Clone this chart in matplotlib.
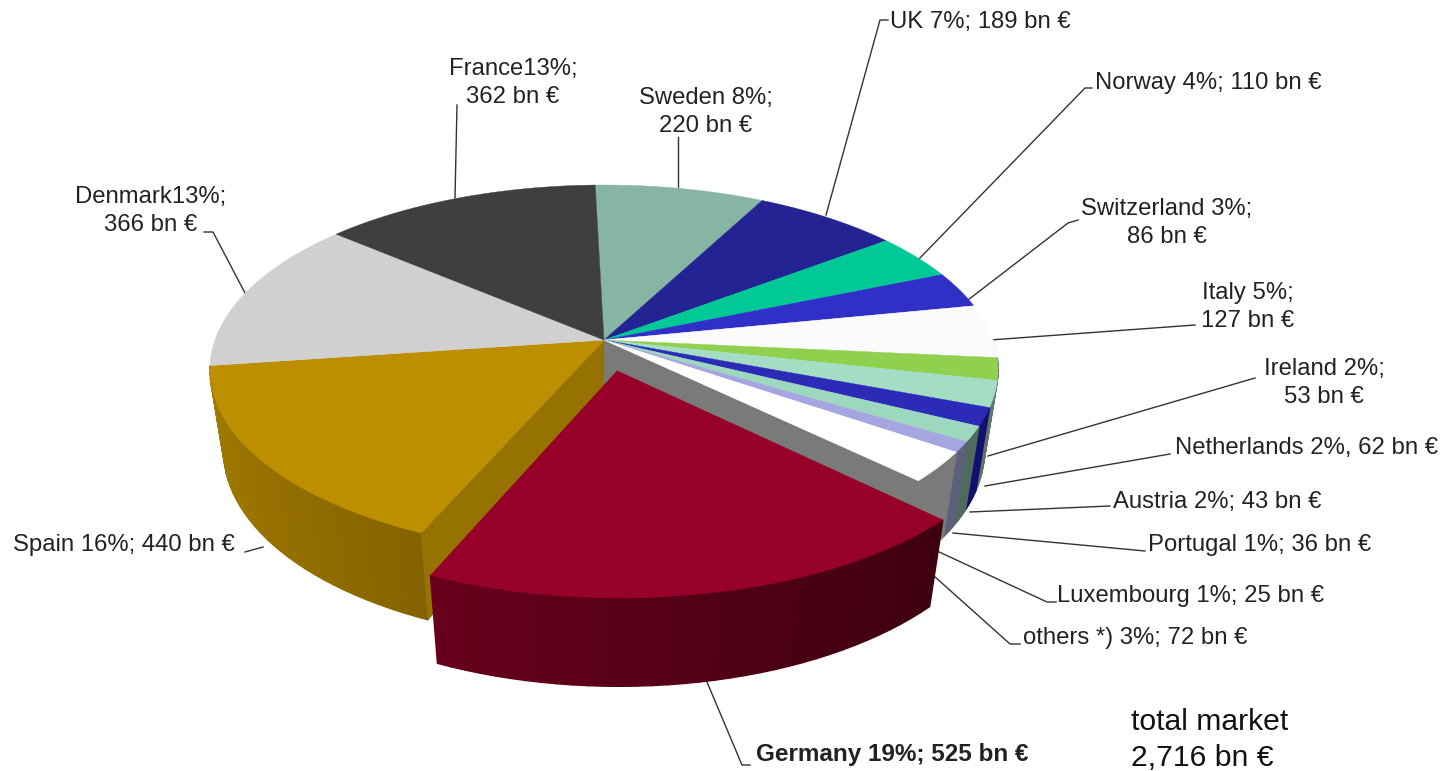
import numpy as np
import matplotlib
matplotlib.use('Agg')
import matplotlib.pyplot as plt
from matplotlib.colors import to_rgb

plt.rcParams['font.family'] = ['Liberation Sans', 'DejaVu Sans']

# bn euro, clockwise from the top
countries = ['Sweden', 'UK', 'Norway', 'Switzerland', 'Italy', 'Ireland', 'Netherlands', 'Austria',
             'Portugal', 'Luxembourg', 'others', 'Germany', 'Spain', 'Denmark', 'France']
values = [220, 189, 110, 86, 127, 53, 62, 43, 36, 25, 72, 525, 440, 366, 362]
top_colors = ['#87b5a3', '#232394', '#00c896', '#3030c8', '#fbfbfb', '#8fd14f', '#a3ddc3', '#2b2bb8',
              '#9cd8be', '#a5a5e0', '#ffffff', '#970029', '#bd8e00', '#d0d0d0', '#3f3f3f']
# None = shaded from the top colour
wall_colors = [None, None, None, None, '#e8e8e8', '#4a5a50', '#5f7568', '#12126e',
               '#4f6b60', '#5c607c', '#7a7a7a', None, None, None, None]

labels = ['UK 7%; 189 bn €', 'Norway 4%; 110 bn €', 'Switzerland 3%;\n86 bn €', 'Italy 5%;\n127 bn €',
          'Ireland 2%;\n53 bn €', 'Netherlands 2%, 62 bn €', 'Austria 2%; 43 bn €', 'Portugal 1%; 36 bn €',
          'Luxembourg 1%; 25 bn €', 'others *) 3%; 72 bn €', 'Spain 16%; 440 bn €', 'Denmark13%;\n366 bn €',
          'France13%;\n362 bn €', 'Sweden 8%;\n220 bn €']
label_pos = [(980, 22), (1208, 83), (1167, 223), (1248, 307), (1324, 383), (1307, 448), (1217, 502),
             (1260, 545), (1191, 596), (1135, 638), (124, 545), (151, 211), (513, 83), (706, 112)]
leaders = [[(826, 215), (880, 20), (888, 20)],
           [(918, 260), (1085, 88), (1092, 88)],
           [(968, 300), (1068, 223), (1078, 220)],
           [(990, 340), (1195, 325)],
           [(988, 456), (1255, 378)],
           [(985, 486), (1170, 454)],
           [(970, 512), (1110, 506)],
           [(953, 533), (1145, 551)],
           [(937, 551), (1047, 602), (1056, 602)],
           [(934, 576), (1010, 644), (1020, 644)],
           [(707, 682), (742, 765), (750, 765)],
           [(263, 547), (245, 552)],
           [(245, 293), (213, 232), (204, 232)],
           [(455, 198), (457, 105)],
           [(678, 187), (678, 137)]]

# perspective settings of the pie
cx, cy = 604, 340
A, B = 389, 179.8
p, q = 0.16, 0.035
D = 84
start = 91.5
explode = {'Germany': 0.17}
no_wall = ['Denmark']


def project(x, y, z=0.0):
    den = 1 + p * y + q * z
    return cx + A * x / den, cy - B * y / den + D * z / den


def shade(col, x):
    f = np.clip(0.6 - 0.25 * x, 0.3, 1)
    return tuple(c * f for c in to_rgb(col))


def rim(a1, a2, n, off):
    t = np.radians(np.linspace(a1, a2, n))
    return off[0] + np.cos(t), off[1] + np.sin(t)


def draw_top(ax, a1, a2, off, col, zo):
    x, y = rim(a1, a2, 60, off)
    x = np.r_[off[0], x]
    y = np.r_[off[1], y]
    sx, sy = project(x, y)
    ax.fill(sx, sy, color=col, lw=0.3, zorder=zo)


def draw_wall(ax, a1, a2, off, base, wall, zo):
    n = max(int(abs(a2 - a1) / 2) + 2, 3)
    x, y = rim(a1, a2, n, off)
    for i in range(n - 1):
        if y[i] > 0 and y[i + 1] > 0:
            continue
        xs = np.array([x[i], x[i + 1], x[i + 1], x[i]])
        ys = np.array([y[i], y[i + 1], y[i + 1], y[i]])
        zs = np.array([0, 0, 1, 1])
        sx, sy = project(xs, ys, zs)
        col = wall if wall else shade(base, x[i])
        ax.fill(sx, sy, color=col, lw=1.0, zorder=zo)


def draw_face(ax, angle, col, zo):
    t = np.radians(angle)
    xs = np.array([0, np.cos(t), np.cos(t), 0])
    ys = np.array([0, np.sin(t), np.sin(t), 0])
    sx, sy = project(xs, ys, np.array([0, 0, 1, 1]))
    ax.fill(sx, sy, color=col, lw=0.3, zorder=zo)


fig = plt.figure(figsize=(14.43, 7.71), dpi=100)
ax = fig.add_axes([0, 0, 1, 1])
ax.set_xlim(0, 1443)
ax.set_ylim(771, 0)
ax.axis('off')

edges = start - np.r_[0, np.cumsum(values)] / sum(values) * 360

for i, name in enumerate(countries):
    a1, a2 = edges[i], edges[i + 1]
    off = (0, 0)
    zo = 2
    if name in explode:
        mid = np.radians((a1 + a2) / 2)
        off = (explode[name] * np.cos(mid), explode[name] * np.sin(mid))
        zo = 6
    if name not in no_wall:
        draw_wall(ax, a1, a2, off, top_colors[i], wall_colors[i], zo)
    if name == 'others':
        draw_face(ax, a2, '#7a7a7a', 3)
    if name == 'Spain':
        draw_face(ax, a1, '#967200', 3)
    draw_top(ax, a1, a2, off, top_colors[i], zo + 1)

fs = 17.2
for txt, (x, y) in zip(labels, label_pos):
    ax.text(x, y, txt, fontsize=fs, color='#222222', ha='center', va='center', linespacing=1.3, zorder=10)
ax.text(892, 755, 'Germany 19%; 525 bn €', fontsize=17.5, fontweight='bold', color='#222222',
        ha='center', va='center', zorder=10)
ax.text(1131, 740, 'total market\n2,716 bn €', fontsize=21.7, color='#111111', ha='left', va='center',
        linespacing=1.32, zorder=10)

for line in leaders:
    xs, ys = zip(*line)
    ax.plot(xs, ys, color='#333333', lw=1.0, zorder=1)

fig.savefig('out.png', dpi=100)
